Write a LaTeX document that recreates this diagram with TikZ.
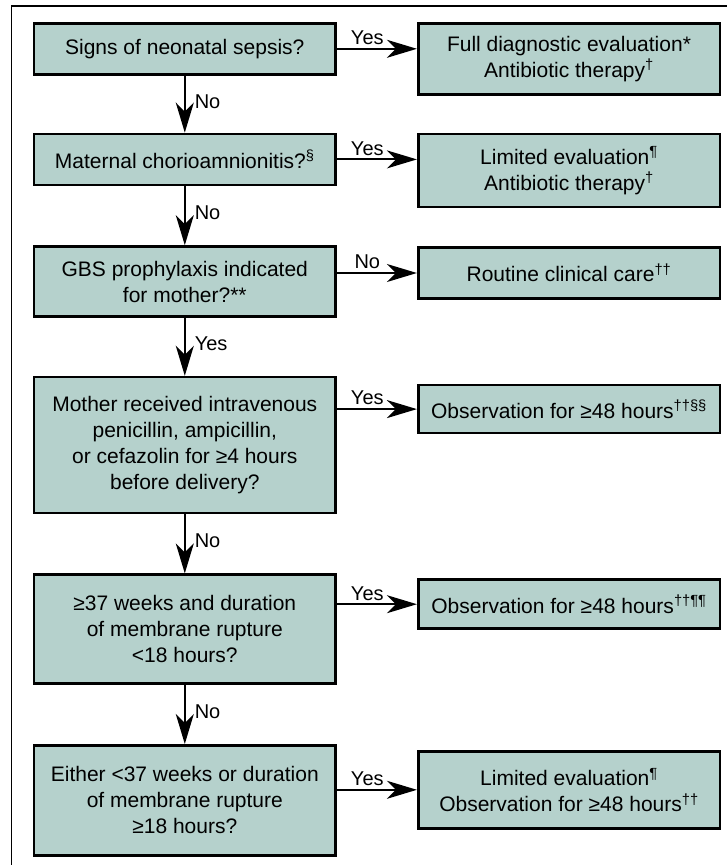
\documentclass[tikz,border=0pt]{standalone}
\usepackage{fontspec}
\setmainfont{Liberation Sans}
\usetikzlibrary{arrows.meta,positioning}
\definecolor{boxteal}{RGB}{181,209,204}

\begin{document}
\begin{tikzpicture}[x=1pt,y=1pt,auto,node distance=60pt,
				main node/.style = {rectangle,draw,line width=2.6pt,fill=boxteal,align=center,inner sep=2pt,
					minimum width=301.6pt,font=\fontsize{21}{26}\selectfont},
				flow/.style = {line width=2pt,-{Stealth[length=30pt,width=18pt,inset=9pt]}},
				lab/.style = {font=\fontsize{20}{24}\selectfont,inner sep=3pt}]
				\useasboundingbox (0,0) rectangle (727,-865);
				\draw[line width=1.3pt] (727,-6) -- (11.7,-6) -- (11.7,-865);
				
				% questions, left column
				\node[main node,minimum height=51pt,anchor=north west] at (32.7,-22) (1) {Signs of neonatal sepsis?};
				\node[main node,minimum height=51pt] [below=57pt of 1](2) {Maternal chorioamnionitis?\textsuperscript{§}};
				\node[main node,minimum height=70pt] [below=59pt of 2](3) {GBS prophylaxis indicated\\for mother?**};
				\node[main node,minimum height=136pt] [below=58pt of 3](4) {Mother received intravenous\\penicillin, ampicillin,\\or cefazolin for ≥4 hours\\before delivery?};
				\node[main node,minimum height=109pt] [below=59pt of 4](5) {≥37 weeks and duration\\of membrane rupture\\<18 hours?};
				\node[main node,minimum height=110pt] [below=59pt of 5](6) {Either <37 weeks or duration\\of membrane rupture\\≥18 hours?};
				
				% outcomes, right column
				\node[main node,minimum height=71pt] [below right=0pt and 80pt of 1.north east](7) {Full diagnostic evaluation*\\Antibiotic therapy\textsuperscript{†}};
				\node[main node,minimum height=73pt] [below right=0pt and 80pt of 2.north east](8) {Limited evaluation\textsuperscript{¶}\\Antibiotic therapy\textsuperscript{†}};
				\node[main node,minimum height=51pt] [below right=1pt and 80pt of 3.north east](9) {Routine clinical care\textsuperscript{††}};
				\node[main node,minimum height=48pt] [below right=8pt and 80pt of 4.north east](10) {Observation for ≥48 hours\textsuperscript{††§§}};
				\node[main node,minimum height=49pt] [below right=5pt and 80pt of 5.north east](11) {Observation for ≥48 hours\textsuperscript{††¶¶}};
				\node[main node,minimum height=77pt] [below right=6pt and 80pt of 6.north east](12) {Limited evaluation\textsuperscript{¶}\\Observation for ≥48 hours\textsuperscript{††}};
				
				\path[flow]
				(1) edge node[lab,pos=0.45,xshift=6pt] {No} (2)
				(2) edge node[lab,pos=0.45,xshift=6pt] {No} (3)
				(3) edge node[lab,pos=0.45,xshift=6pt] {Yes} (4)
				(4) edge node[lab,pos=0.45,xshift=6pt] {No} (5)
				(5) edge node[lab,pos=0.45,xshift=6pt] {No} (6)
				(1.east) edge node[lab,pos=0.38] {Yes} (1.east -| 7.west)
				(2.east) edge node[lab,pos=0.38] {Yes} (2.east -| 8.west)
				(9.west -| 3.east) edge node[lab,pos=0.38] {No} (9.west)
				(10.west -| 4.east) edge node[lab,pos=0.38] {Yes} (10.west)
				(11.west -| 5.east) edge node[lab,pos=0.38] {Yes} (11.west)
				(12.west -| 6.east) edge node[lab,pos=0.38] {Yes} (12.west);
				\end{tikzpicture}
\end{document}
